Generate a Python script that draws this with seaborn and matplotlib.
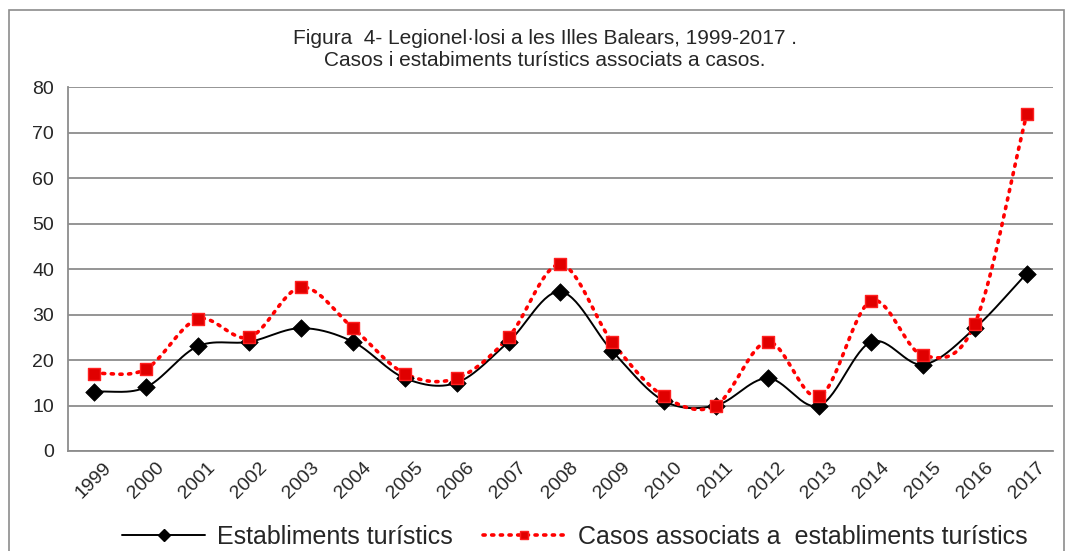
import numpy as np
import pandas as pd
import matplotlib
matplotlib.use("Agg")
import matplotlib.pyplot as plt
import seaborn as sns
from matplotlib.lines import Line2D
from matplotlib.patches import Rectangle

years = [str(y) for y in range(1999, 2018)]
establiments = [13, 14, 23, 24, 27, 24, 16, 15, 24, 35, 22, 11, 10, 16, 10, 24, 19, 27, 39]
casos = [17, 18, 29, 25, 36, 27, 17, 16, 25, 41, 24, 12, 10, 24, 12, 33, 21, 28, 74]

title = "Figura  4- Legionel·losi a les Illes Balears, 1999-2017 .\nCasos i estabiments turístics associats a casos."
label_est = "Establiments turístics"
label_cas = "Casos associats a  establiments turístics"


def smooth(y, steps=30):
    # catmull-rom curve through the points, like the smoothed line in a spreadsheet chart
    y = np.asarray(y, dtype=float)
    p = np.concatenate([[2 * y[0] - y[1]], y, [2 * y[-1] - y[-2]]])
    xs, ys = [], []
    for i in range(len(y) - 1):
        t = np.linspace(0, 1, steps, endpoint=False)
        p0, p1, p2, p3 = p[i], p[i + 1], p[i + 2], p[i + 3]
        seg = 0.5 * ((2 * p1) + (-p0 + p2) * t + (2 * p0 - 5 * p1 + 4 * p2 - p3) * t ** 2
                     + (-p0 + 3 * p1 - 3 * p2 + p3) * t ** 3)
        xs.append(i + t)
        ys.append(seg)
    xs.append([len(y) - 1])
    ys.append([y[-1]])
    return np.concatenate(xs), np.concatenate(ys)


sns.set_style("white")
plt.rcParams['font.family'] = ['Liberation Sans', 'DejaVu Sans']

fig = plt.figure(figsize=(10.73, 5.51), dpi=100)
ax = fig.add_axes([0.0634, 0.1815, 0.9176, 0.6605])
fig.patches.append(Rectangle((0.008, -0.01), 0.984, 0.992, transform=fig.transFigure,
                             fill=False, edgecolor="#8c8c8c", linewidth=1.2))

df = pd.DataFrame({"pos": np.arange(len(years)), "est": establiments, "cas": casos})

xe, ye = smooth(establiments)
xc, yc = smooth(casos)
sns.lineplot(x=xe, y=ye, ax=ax, color="black", linewidth=1.4, sort=False, zorder=3)
sns.lineplot(x=xc, y=yc, ax=ax, color="#ff0000", linewidth=2.6, linestyle=(0, (0.6, 1.8)),
             dash_capstyle="round", sort=False, zorder=4)
sns.scatterplot(data=df, x="pos", y="est", ax=ax, marker="D", s=80, color="black",
                edgecolor="black", linewidth=0.5, zorder=5)
sns.scatterplot(data=df, x="pos", y="cas", ax=ax, marker="s", s=75, color="#e00000",
                edgecolor="#ff2020", linewidth=1.0, zorder=6)

ax.set_xlim(-0.5, len(years) - 0.5)
ax.set_ylim(0, 80)
ax.set_yticks(range(0, 81, 10))
ax.set_xticks(np.arange(len(years)))
ax.set_xticklabels(years, rotation=45, ha="center", fontsize=14)
ax.set_xticks(np.arange(len(years) + 1) - 0.5, minor=True)
ax.tick_params(axis="x", which="major", length=0, pad=6)
ax.tick_params(axis="x", which="minor", length=6, color="#8c8c8c", width=1.3)
ax.tick_params(axis="y", length=6, color="#8c8c8c", width=1.3, labelsize=14, pad=4)
ax.set_xlabel("")
ax.set_ylabel("")
ax.grid(axis="y", color="#8c8c8c", linewidth=1.3)
ax.set_axisbelow(True)
for s in ["top", "right"]:
    ax.spines[s].set_visible(False)
for s in ["left", "bottom"]:
    ax.spines[s].set_color("#8c8c8c")
    ax.spines[s].set_linewidth(1.3)

fig.text(0.508, 0.91, title, ha="center", va="center", fontsize=15, linespacing=1.25)

handles = [
    Line2D([], [], color="black", linewidth=1.4, marker="D", markersize=6,
           markerfacecolor="black"),
    Line2D([], [], color="#ff0000", linewidth=2.6, linestyle=(0, (0.6, 1.8)),
           dash_capstyle="round", marker="s", markersize=6, markerfacecolor="#e00000",
           markeredgecolor="#ff2020"),
]
fig.legend(handles, [label_est, label_cas], loc="center", bbox_to_anchor=(0.536, 0.025),
           ncol=2, frameon=False, fontsize=18, handlelength=3.3, columnspacing=1.2,
           handletextpad=0.5)

fig.savefig("out.png", dpi=100)
plt.close()
